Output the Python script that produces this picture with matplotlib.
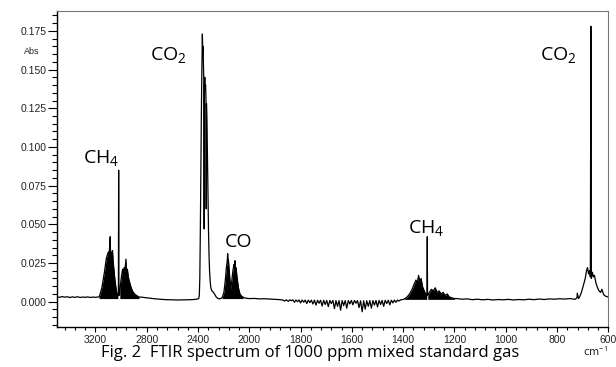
import numpy as np
import matplotlib
matplotlib.use("Agg")
import matplotlib.pyplot as plt

# baseline pieces and absorption bands (wavenumber in cm-1, absorbance)
base_hi_wn = [3500, 3480, 3460, 3440, 3420, 3400, 3380, 3360, 3340, 3320, 3300, 3280,
              3260, 3240, 3220, 3200, 3185]
base_hi_abs = [0.0031, 0.0028, 0.0033, 0.0029, 0.0032, 0.0027, 0.0031, 0.0028, 0.0032,
               0.0027, 0.0030, 0.0028, 0.0031, 0.0027, 0.0030, 0.0028, 0.0030]

ch4_r_wn = [3171, 3160, 3150, 3140, 3130, 3122, 3115, 3108, 3100, 3094, 3088, 3085,
            3082, 3076, 3070, 3067, 3062, 3055, 3048, 3040, 3032, 3025]
ch4_r_abs = [0.003, 0.006, 0.009, 0.014, 0.019, 0.024, 0.028, 0.030, 0.032, 0.031,
             0.036, 0.042, 0.030, 0.032, 0.030, 0.033, 0.026, 0.020, 0.014, 0.009,
             0.005, 0.004]

ch4_q_wn = [3021, 3019, 3017]
ch4_q_abs = [0.004, 0.085, 0.004]

ch4_p_wn = [3010, 3004, 2996, 2988, 2983, 2977, 2970, 2962, 2958, 2951, 2944, 2935,
            2925, 2912, 2895, 2880, 2860]
ch4_p_abs = [0.005, 0.012, 0.017, 0.021, 0.018, 0.022, 0.020, 0.0275, 0.020, 0.021,
             0.016, 0.013, 0.010, 0.007, 0.005, 0.004, 0.003]

base_mid_wn = [2850, 2800, 2750, 2700, 2650, 2600, 2550, 2500, 2450, 2420, 2400]
base_mid_abs = [0.0030, 0.0025, 0.0020, 0.0016, 0.0013, 0.0012, 0.0011, 0.0012,
                0.0013, 0.0015, 0.0018]

co2_str_wn = [2394, 2390, 2386, 2382, 2378, 2374, 2370, 2366, 2363, 2360, 2357, 2354,
              2352, 2350, 2347, 2344, 2341, 2338, 2336, 2334, 2330, 2326, 2322, 2318,
              2314, 2310, 2305, 2300, 2292, 2284, 2276, 2268, 2258, 2246, 2236, 2226]
co2_str_abs = [0.0022, 0.004, 0.015, 0.045, 0.085, 0.120, 0.150, 0.173, 0.160, 0.165,
               0.150, 0.140, 0.047, 0.140, 0.145, 0.138, 0.140, 0.132, 0.060, 0.128,
               0.115, 0.090, 0.065, 0.045, 0.030, 0.020, 0.013, 0.009, 0.007, 0.0065,
               0.0055, 0.0045, 0.003, 0.0022, 0.0018, 0.0020]

co_wn = [2212, 2198, 2187, 2179, 2172, 2169, 2166, 2163, 2157, 2151, 2144, 2136, 2128,
         2120, 2115, 2112, 2108, 2104, 2096, 2085, 2073, 2060, 2049]
co_abs = [0.0025, 0.006, 0.014, 0.022, 0.026, 0.031, 0.025, 0.027, 0.020, 0.014,
          0.008, 0.014, 0.020, 0.024, 0.022, 0.0265, 0.021, 0.022, 0.016, 0.009,
          0.005, 0.0035, 0.003]

base_low_wn = [2040, 2020, 2000, 1980, 1960, 1940, 1920, 1900, 1880, 1870, 1862, 1856,
               1848, 1842, 1836, 1830, 1824, 1818, 1812, 1806, 1800, 1794, 1788, 1782,
               1776, 1770, 1764, 1758, 1752, 1746, 1740, 1734, 1728, 1722, 1716, 1710,
               1704, 1698, 1692, 1686, 1680, 1674, 1668, 1662, 1656, 1650, 1644, 1638,
               1632, 1626, 1620, 1614, 1608, 1602, 1596, 1590, 1584, 1578, 1572, 1566,
               1560, 1554, 1548, 1542, 1536, 1530, 1524, 1518, 1512, 1506, 1500, 1494,
               1488, 1482, 1476, 1470, 1464, 1458, 1452, 1446, 1440, 1434, 1428, 1422,
               1416, 1410, 1400]
base_low_abs = [0.0025, 0.0022, 0.0020, 0.0021, 0.0018, 0.0019, 0.0017, 0.0015,
                0.0013, 0.0011, 0.0004, 0.0012, 0.0002, 0.0012, 0.0006, 0.0012,
                -0.0004, 0.0011, 0.0000, 0.0011, -0.0008, 0.0011, -0.0003, 0.0010,
                -0.0012, 0.0010, -0.0006, 0.0010, -0.0015, 0.0010, -0.0022, 0.0009,
                -0.0010, 0.0009, -0.0028, 0.0009, -0.0018, 0.0008, -0.0032, 0.0008,
                -0.0012, 0.0008, -0.0045, 0.0007, -0.0030, 0.0007, -0.0055, 0.0007,
                -0.0025, 0.0007, -0.0042, 0.0007, -0.0015, 0.0008, -0.0020, 0.0008,
                -0.0010, 0.0007, -0.0038, 0.0006, -0.0065, 0.0006, -0.0048, 0.0006,
                -0.0030, 0.0007, -0.0042, 0.0007, -0.0022, 0.0008, -0.0034, 0.0008,
                -0.0018, 0.0008, -0.0030, 0.0009, -0.0012, 0.0009, -0.0020, 0.0010,
                -0.0008, 0.0010, -0.0004, 0.0011, 0.0004, 0.0012, 0.0014]

ch4_bend_r_wn = [1395, 1385, 1375, 1365, 1358, 1350, 1345, 1340, 1335, 1330, 1325,
                 1318, 1312, 1308]
ch4_bend_r_abs = [0.0018, 0.0030, 0.005, 0.008, 0.011, 0.014, 0.012, 0.017, 0.013,
                  0.015, 0.010, 0.007, 0.005, 0.004]
ch4_bend_q_wn = [1307, 1306, 1305]
ch4_bend_q_abs = [0.004, 0.042, 0.004]
ch4_bend_p_wn = [1304, 1298, 1290, 1282, 1275, 1268, 1260, 1252, 1244, 1236, 1228,
                 1220, 1210, 1200]
ch4_bend_p_abs = [0.004, 0.006, 0.008, 0.007, 0.009, 0.006, 0.007, 0.005, 0.006,
                  0.004, 0.005, 0.003, 0.0025, 0.002]

base_end_wn = [1190, 1170, 1150, 1130, 1110, 1090, 1070, 1050, 1030, 1010, 990, 970,
               950, 930, 910, 890, 870, 850, 830, 810, 790, 770, 750, 740]
base_end_abs = [0.0020, 0.0016, 0.0018, 0.0013, 0.0016, 0.0012, 0.0015, 0.0011,
                0.0014, 0.0012, 0.0015, 0.0011, 0.0014, 0.0012, 0.0016, 0.0013,
                0.0017, 0.0014, 0.0018, 0.0016, 0.0019, 0.0017, 0.0020, 0.0018]

co2_bend_wn = [730, 722, 721, 716, 712, 705, 698, 690, 685, 681, 677, 673, 670, 668,
               666, 662, 658, 654, 648, 642, 636, 630, 625, 618, 610, 600]
co2_bend_abs = [0.0015, 0.0025, 0.0055, 0.0020, 0.003, 0.006, 0.010, 0.015, 0.020,
                0.022, 0.018, 0.020, 0.016, 0.178, 0.015, 0.019, 0.016, 0.017, 0.012,
                0.009, 0.007, 0.006, 0.008, 0.0045, 0.0035, 0.003]

y_ticks = [0.000, 0.025, 0.050, 0.075, 0.100, 0.125, 0.150, 0.175]
x_ticks = [3200, 2800, 2400, 2000, 1800, 1600, 1400, 1200, 1000, 800, 600]

labels = [("CO$_2$", 2775, 0.1565), ("CH$_4$", 3300, 0.0897), ("CO", 2189, 0.0354),
          ("CH$_4$", 1380, 0.0443), ("CO$_2$", 865, 0.1563)]

plt.rcParams["mathtext.fontset"] = "custom"
plt.rcParams["mathtext.rm"] = "Open Sans"
plt.rcParams["mathtext.it"] = "Open Sans"


def fwd(x):
    # wavenumbers above 2000 are shown at half scale
    x = np.asarray(x, dtype=float)
    return np.where(x > 2000, 2000 + (x - 2000) / 2, x)


def inv(u):
    u = np.asarray(u, dtype=float)
    return np.where(u > 2000, 2000 + (u - 2000) * 2, u)


segments = [(base_hi_wn, base_hi_abs), (ch4_r_wn, ch4_r_abs), (ch4_q_wn, ch4_q_abs),
            (ch4_p_wn, ch4_p_abs), (base_mid_wn, base_mid_abs), (co2_str_wn, co2_str_abs),
            (co_wn, co_abs), (base_low_wn, base_low_abs), (ch4_bend_r_wn, ch4_bend_r_abs),
            (ch4_bend_q_wn, ch4_bend_q_abs), (ch4_bend_p_wn, ch4_bend_p_abs),
            (base_end_wn, base_end_abs), (co2_bend_wn, co2_bend_abs)]
wn = np.concatenate([s[0] for s in segments])
ab = np.concatenate([s[1] for s in segments])

fig = plt.figure(figsize=(6.16, 3.67), dpi=100)
ax = fig.add_axes([0.0925, 0.1082, 0.895, 0.862])
ax.set_xscale("function", functions=(fwd, inv))

# dense rotational lines are drawn as solid areas
for bw, ba, floor in [(ch4_r_wn, ch4_r_abs, 0.002), (ch4_p_wn, ch4_p_abs, 0.002),
                      (co_wn, co_abs, 0.002), (ch4_bend_r_wn, ch4_bend_r_abs, 0.0015),
                      (ch4_bend_p_wn, ch4_bend_p_abs, 0.0015)]:
    ax.fill_between(bw, floor, ba, color="black", lw=0)
ax.plot(wn, ab, color="black", lw=0.9)

ax.set_xlim(3500, 600)
ax.set_ylim(-0.01655, 0.1879)

ax.set_xticks(x_ticks)
ax.set_xticklabels([str(t) for t in x_ticks])
minor_x = [t for t in list(range(2080, 3500, 80)) + list(range(640, 2000, 40))
           if t not in x_ticks]
ax.set_xticks(minor_x, minor=True)
ax.set_yticks(y_ticks)
ax.set_yticklabels(["%.3f" % t for t in y_ticks])
ax.set_yticks(np.round(np.arange(-0.015, 0.1851, 0.005), 3), minor=True)

for lab in ax.get_xticklabels() + ax.get_yticklabels():
    lab.set_fontfamily("Liberation Sans")
    lab.set_fontsize(7.5)
    lab.set_color("#222222")

ax.tick_params(axis="y", which="major", length=6.5, width=0.8, pad=1, direction="out")
ax.tick_params(axis="y", which="minor", length=3.8, width=0.8, direction="out")
ax.tick_params(axis="x", which="major", length=3.8, width=0.8, pad=2, direction="out")
ax.tick_params(axis="x", which="minor", length=2.4, width=0.8, direction="out")

for side in ["left", "bottom"]:
    ax.spines[side].set_color("black")
    ax.spines[side].set_linewidth(1.0)
for side in ["top", "right"]:
    ax.spines[side].set_color("#777777")
    ax.spines[side].set_linewidth(0.8)

for txt, x, y in labels:
    ax.text(x, y, txt, fontsize=14, family="Open Sans", ha="left", va="baseline")

fig.text(32 / 616, 1 - 52 / 367, "Abs", fontsize=6.5, family="Liberation Sans",
         ha="center", va="center", color="#222222")
fig.text(595 / 616, 1 - 351 / 367, "cm$^{-1}$", fontsize=7.5, ha="center", va="center",
         color="#222222")
fig.text(310 / 616, 1 - 353 / 367, "Fig. 2  FTIR spectrum of 1000 ppm mixed standard gas",
         fontsize=12, family="Open Sans", ha="center", va="center")

fig.savefig("out.png", dpi=100)
